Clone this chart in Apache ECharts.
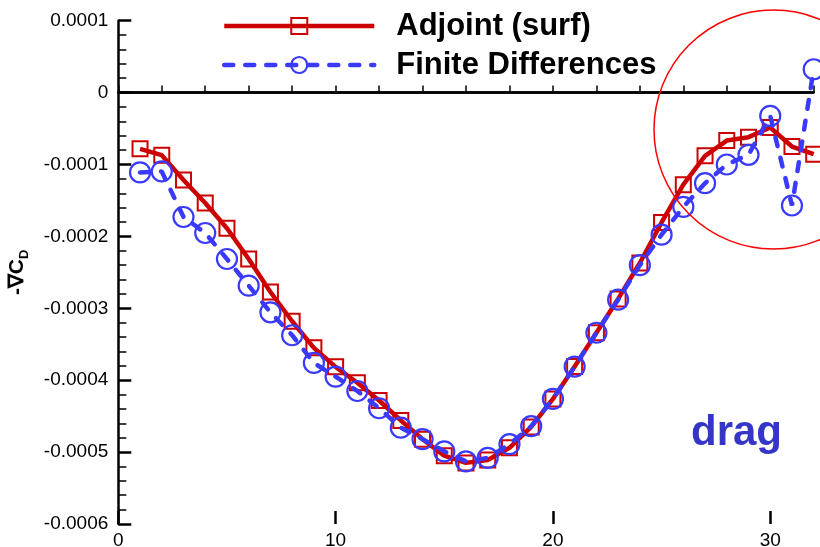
<!DOCTYPE html>
<html>
<head>
<meta charset="utf-8">
<script src="https://cdn.jsdelivr.net/npm/echarts@6/dist/echarts.min.js"></script>
<style>
html,body{margin:0;padding:0;background:#fff;}
#chart{width:820px;height:547px;}
</style>
</head>
<body>
<div id="chart"></div>
<script>
const xValues = [1,2,3,4,5,6,7,8,9,10,11,12,13,14,15,16,17,18,19,20,21,22,23,24,25,26,27,28,29,30,31,32];
const adjointSurf = [-0.0000782,-0.0000870,-0.0001215,-0.0001535,-0.0001887,-0.0002314,-0.0002773,-0.000318,-0.000355,-0.0003814,-0.0004036,-0.0004282,-0.000456,-0.000482,-0.000505,-0.000515,-0.000511,-0.000494,-0.000465,-0.000426,-0.000381,-0.000334,-0.000287,-0.000237,-0.0001806,-0.000128,-0.0000879,-0.0000667,-0.000062,-0.0000486,-0.000075,-0.0000856];
const finiteDiff = [-0.000111,-0.0001097,-0.000173,-0.0001953,-0.0002314,-0.0002685,-0.0003056,-0.0003375,-0.000376,-0.000395,-0.000415,-0.000439,-0.000466,-0.000482,-0.000499,-0.000513,-0.000508,-0.000489,-0.000464,-0.000426,-0.000381,-0.000334,-0.000288,-0.00024,-0.0001976,-0.000159,-0.000126,-0.0001,-0.0000865,-0.0000324,-0.000157,0.0000325];
const xMajorTicks = [0,10,20,30];
const seriesNames = ['Adjoint (surf)','Finite Differences'];
const annotationText = 'drag';

const RED = '#cc0000';
const BLUE = '#3a3aff';
const chart = echarts.init(document.getElementById('chart'), null, {renderer:'canvas'});

const pairs = (ys) => xValues.map((x,i)=>[x, ys[i]]);

const option = {
  animation:false,
  grid:{left:118.3, right:6.3, top:20.7, bottom:23, containLabel:false, outerBoundsMode:'none'},
  legend:{
    orient:'vertical', left:222, top:10, padding:0, itemWidth:150, itemHeight:20, itemGap:7,
    textStyle:{fontFamily:'Liberation Sans, Arial, sans-serif', fontWeight:'bold', fontSize:31, color:'#000', lineHeight:32, padding:[0,0,0,17]},
    data:[
      {name:seriesNames[0], lineStyle:{width:4.5}, itemStyle:{borderWidth:2}},
      {name:seriesNames[1], lineStyle:{width:4.5}, itemStyle:{borderWidth:2.2}}
    ]
  },
  xAxis:[{
    type:'value', min:0, max:32, interval:2,
    axisLine:{lineStyle:{color:'#000', width:2.5}},
    axisTick:{inside:true, length:7, lineStyle:{color:'#000', width:1.5}},
    axisLabel:{show:false},
    splitLine:{show:false}
  },{
    type:'value', min:0, max:32, position:'bottom',
    axisLine:{show:false},
    axisTick:{inside:true, length:13, customValues:xMajorTicks, lineStyle:{color:'#000', width:2.5}},
    axisLabel:{customValues:xMajorTicks, margin:7, fontFamily:'Liberation Sans, Arial, sans-serif', fontSize:19, color:'#000'},
    splitLine:{show:false}
  }],
  yAxis:{
    type:'value', min:-0.0006, max:0.0001, interval:0.0001,
    name:'{m|-∇C}{s|D}', nameLocation:'middle', nameRotate:90, nameGap:87,
    nameTextStyle:{rich:{
      m:{fontFamily:'Liberation Sans, Arial, sans-serif', fontWeight:'bold', fontSize:21, color:'#000', lineHeight:28},
      s:{fontFamily:'Liberation Sans, Arial, sans-serif', fontWeight:'bold', fontSize:13, color:'#000', lineHeight:14, verticalAlign:'bottom'}
    }},
    axisLine:{lineStyle:{color:'#000', width:2.5}},
    axisTick:{inside:true, length:13, lineStyle:{color:'#000', width:2.5}},
    minorTick:{show:true, splitNumber:5, length:8, lineStyle:{color:'#000', width:1.5}},
    axisLabel:{margin:10, fontFamily:'Liberation Sans, Arial, sans-serif', fontSize:19, color:'#000',
      formatter:(v)=> Math.abs(v)<1e-12 ? '0' : v.toFixed(4)},
    splitLine:{show:false}
  },
  series:[{
    name:seriesNames[0], type:'line', data:pairs(adjointSurf), xAxisIndex:0,
    symbol:'rect', symbolSize:15, showAllSymbol:true,
    lineStyle:{color:RED, width:4.5},
    itemStyle:{color:'rgba(0,0,0,0)', borderColor:RED, borderWidth:2},
    z:3,
    markLine:{silent:true, symbol:'none', label:{show:false},
      lineStyle:{color:'#000', width:2.5, type:'solid'},
      data:[{yAxis:0}]}
  },{
    name:seriesNames[1], type:'line', data:pairs(finiteDiff), xAxisIndex:0,
    symbol:'circle', symbolSize:20, showAllSymbol:true,
    lineStyle:{color:BLUE, width:4.5, type:[9,12], cap:'round'},
    itemStyle:{color:'rgba(0,0,0,0)', borderColor:BLUE, borderWidth:2.2},
    z:4
  }]
};
chart.setOption(option);

// annotation circle and text positioned from data coordinates
const c = chart.convertToPixel({xAxisIndex:0, yAxisIndex:0}, [30.15, -0.0000514]);
chart.setOption({graphic:[
  {type:'circle', shape:{cx:c[0], cy:c[1], r:119.5}, style:{fill:'none', stroke:'#ff0000', lineWidth:1.5}, z:10, silent:true},
  {type:'text', x:691, y:412.5, style:{text:annotationText, fill:'#3535c8', font:'bold 42px "Liberation Sans", Arial, sans-serif', textBaseline:'alphabetic', textAlign:'left'}, z:10, silent:true}
]});
</script>
</body>
</html>
